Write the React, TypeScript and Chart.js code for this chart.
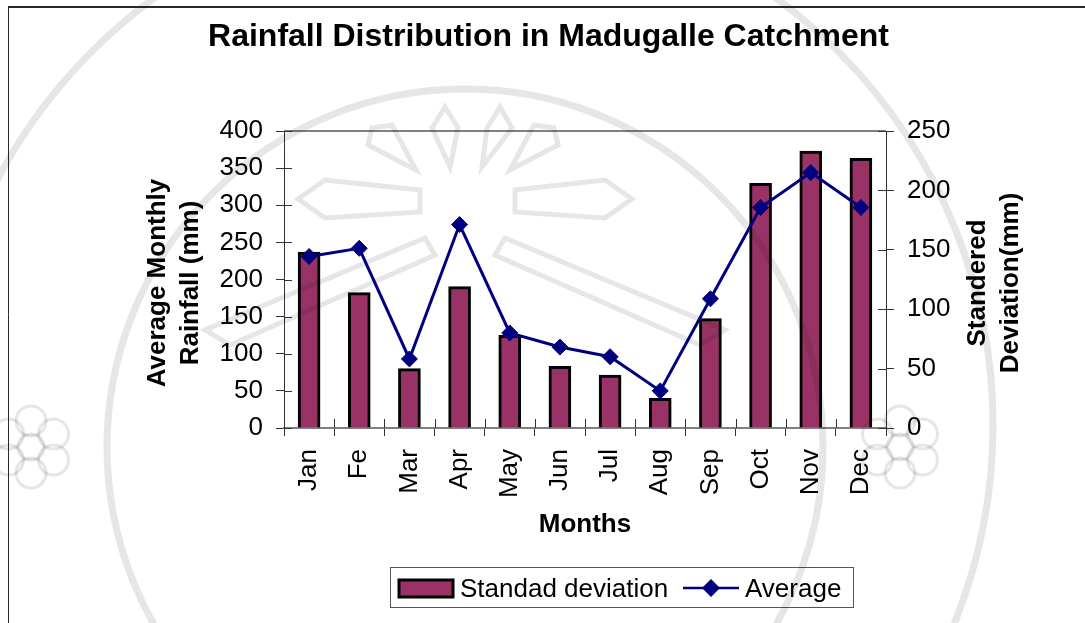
import React, { useEffect, useRef } from "react";
import { Chart, registerables } from "chart.js";

Chart.register(...registerables);

const months = ["Jan", "Fe", "Mar", "Apr", "May", "Jun", "Jul", "Aug", "Sep", "Oct", "Nov", "Dec"];
const stdDev = [148, 114, 50, 119, 78, 52, 44.5, 25, 92, 206, 233, 227];
const average = [231, 242, 93, 274, 128, 109, 96, 50, 174, 297, 344, 297];

const FONT = "'Liberation Sans', Arial, sans-serif";
const INK = "#000000";
const AXIS = "#333333";
const NAVY = "#000080";
const PLUM = "#993366";

// Decorative stamp behind the chart (no data)
const stampRings = [
  { x: 465, y: 425, r: 528, w: 7 },
  { x: 465, y: 447, r: 358, w: 7 },
];
const stampRays = [
  [[298, 199], [325, 180], [420, 190], [420, 212], [325, 218]],
  [[632, 199], [605, 180], [515, 190], [515, 212], [605, 218]],
  [[450, 167], [432, 128], [445, 107], [458, 128]],
  [[482, 167], [487, 128], [500, 107], [512, 128]],
  [[416, 170], [368, 145], [372, 128], [392, 125]],
  [[510, 170], [558, 145], [554, 128], [534, 125]],
  [[505, 238], [725, 330], [700, 345], [495, 255]],
  [[425, 238], [205, 330], [230, 345], [435, 255]],
];
const stampFlowers = [
  { x: 31, y: 447 },
  { x: 900, y: 447 },
];

const framePlugin = {
  id: "frame",
  beforeDraw(chart: any) {
    const c = chart.ctx;
    c.save();
    c.fillStyle = "#ffffff";
    c.fillRect(0, 0, chart.width, chart.height);
    c.strokeStyle = "#2a2a2a";
    c.lineWidth = 2;
    c.beginPath();
    c.moveTo(8, 7);
    c.lineTo(1085, 7);
    c.stroke();
    c.lineWidth = 1;
    c.beginPath();
    c.moveTo(8.5, 6);
    c.lineTo(8.5, 623);
    c.stroke();
    c.restore();
  },
  afterDraw(chart: any) {
    const c = chart.ctx;
    const { x: xs, y: yl, y2: yr } = chart.scales;
    c.save();

    // plot top edge and baseline
    c.strokeStyle = "#808080";
    c.lineWidth = 2;
    c.beginPath();
    c.moveTo(xs.left, yl.top);
    c.lineTo(xs.right, yl.top);
    c.stroke();

    // inner half of the crossing ticks
    c.strokeStyle = AXIS;
    c.lineWidth = 1;
    c.beginPath();
    for (let i = 0; i <= months.length; i++) {
      const px = Math.round(xs.left + (xs.width * i) / months.length) + 0.5;
      c.moveTo(px, yl.bottom - 9);
      c.lineTo(px, yl.bottom);
    }
    yl.ticks.forEach((t: any) => {
      const py = Math.round(yl.getPixelForValue(t.value)) + 0.5;
      c.moveTo(xs.left, py);
      c.lineTo(xs.left + 8, py);
    });
    yr.ticks.forEach((t: any) => {
      const py = Math.round(yr.getPixelForValue(t.value)) + 0.5;
      c.moveTo(xs.right - 8, py);
      c.lineTo(xs.right, py);
    });
    c.stroke();

    // rotated axis titles, all reading bottom to top
    c.fillStyle = INK;
    c.font = `bold 26px ${FONT}`;
    c.textAlign = "center";
    c.textBaseline = "middle";
    const titles = [
      { t: "Average Monthly", x: 158, y: 283 },
      { t: "Rainfall (mm)", x: 191, y: 283 },
      { t: "Standered", x: 978, y: 283 },
      { t: "Deviation(mm)", x: 1011, y: 283 },
    ];
    titles.forEach((a) => {
      c.save();
      c.translate(a.x, a.y);
      c.rotate(-Math.PI / 2);
      c.fillText(a.t, 0, 0);
      c.restore();
    });

    // legend
    const ds = chart.data.datasets;
    const bar = ds.find((d: any) => d.type === "bar");
    const line = ds.find((d: any) => d.type === "line");
    c.strokeStyle = "#555555";
    c.lineWidth = 1;
    c.strokeRect(390.5, 567.5, 463, 40);
    c.fillStyle = bar.backgroundColor;
    c.strokeStyle = "#000000";
    c.lineWidth = 3;
    c.fillRect(399, 580, 54, 17);
    c.strokeRect(399, 580, 54, 17);
    c.fillStyle = INK;
    c.font = `26px ${FONT}`;
    c.textAlign = "left";
    c.fillText(bar.label, 460, 590);
    c.strokeStyle = NAVY;
    c.lineWidth = 2.5;
    c.beginPath();
    c.moveTo(683, 588);
    c.lineTo(739, 588);
    c.stroke();
    c.fillStyle = NAVY;
    c.beginPath();
    c.moveTo(711, 579);
    c.lineTo(720, 588);
    c.lineTo(711, 597);
    c.lineTo(702, 588);
    c.closePath();
    c.fill();
    c.fillStyle = INK;
    c.fillText(line.label, 745, 590);

    // stamp, printed over everything
    c.globalCompositeOperation = "multiply";
    c.strokeStyle = "#e6e6e6";
    stampRings.forEach((r) => {
      c.lineWidth = r.w;
      c.beginPath();
      c.arc(r.x, r.y, r.r, 0, Math.PI * 2);
      c.stroke();
    });
    c.lineWidth = 5;
    stampRays.forEach((pts) => {
      c.beginPath();
      pts.forEach((p, i) => (i ? c.lineTo(p[0], p[1]) : c.moveTo(p[0], p[1])));
      c.closePath();
      c.stroke();
    });
    c.lineWidth = 3;
    stampFlowers.forEach((f) => {
      c.beginPath();
      c.arc(f.x, f.y, 13, 0, Math.PI * 2);
      c.stroke();
      for (let k = 0; k < 6; k++) {
        const a = (k * Math.PI) / 3 + Math.PI / 6;
        c.beginPath();
        c.arc(f.x + Math.cos(a) * 26, f.y + Math.sin(a) * 26, 15, 0, Math.PI * 2);
        c.stroke();
      }
    });
    c.restore();
  },
};

export default function App() {
  const ref = useRef<HTMLCanvasElement>(null);
  useEffect(() => {
    const chart = new Chart(ref.current!, {
      data: {
        labels: months,
        datasets: [
          {
            type: "line",
            label: "Average",
            data: average,
            yAxisID: "y",
            borderColor: NAVY,
            backgroundColor: NAVY,
            borderWidth: 3,
            pointStyle: "rectRot",
            pointRadius: 8,
            pointBorderWidth: 1,
            pointBackgroundColor: NAVY,
            pointBorderColor: NAVY,
            tension: 0,
            order: 1,
          },
          {
            type: "bar",
            label: "Standad deviation",
            data: stdDev,
            yAxisID: "y2",
            backgroundColor: PLUM,
            borderColor: "#000000",
            borderWidth: 3,
            barThickness: 22,
            order: 2,
          },
        ],
      } as any,
      options: {
        responsive: false,
        animation: false,
        layout: { padding: { top: 0, left: 12, right: 0, bottom: 79 } },
        plugins: {
          legend: { display: false },
          tooltip: { enabled: false },
          title: {
            display: true,
            text: "Rainfall Distribution in Madugalle Catchment",
            color: INK,
            font: { family: FONT, size: 32, weight: "bold" },
            padding: { top: 18, bottom: 74.6 },
          },
        },
        scales: {
          x: {
            afterFit(s: any) {
              s.height = 116;
            },
            grid: { drawOnChartArea: false, tickLength: 8, color: AXIS },
            border: { color: "#808080", width: 2 },
            ticks: { color: INK, font: { family: FONT, size: 26 }, maxRotation: 90, minRotation: 90, padding: 13 },
            title: { display: true, text: "Months", color: INK, font: { family: FONT, size: 26, weight: "bold" } },
          },
          y: {
            position: "left",
            min: 0,
            max: 400,
            afterFit(s: any) {
              s.width = 272;
            },
            grid: { drawOnChartArea: false, tickLength: 8, color: AXIS },
            border: { color: AXIS, width: 1 },
            ticks: { color: INK, font: { family: FONT, size: 26 }, stepSize: 50, padding: 13 },
          },
          y2: {
            position: "right",
            min: 0,
            max: 250,
            afterFit(s: any) {
              s.width = 199;
            },
            grid: { drawOnChartArea: false, tickLength: 8, color: AXIS },
            border: { color: AXIS, width: 1 },
            ticks: { color: INK, font: { family: FONT, size: 26 }, stepSize: 50, padding: 13 },
          },
        },
      } as any,
      plugins: [framePlugin],
    });
    return () => chart.destroy();
  }, []);
  return <canvas ref={ref} width={1085} height={623} style={{ position: "fixed", left: 0, top: 0 }} />;
}
